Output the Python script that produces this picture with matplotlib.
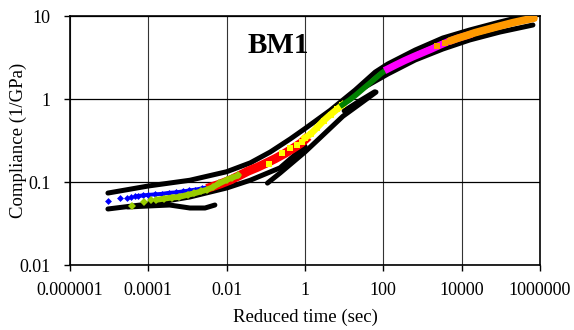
import matplotlib
matplotlib.use("Agg")
import matplotlib.pyplot as plt

plt.rcParams['font.family'] = ['Liberation Serif', 'DejaVu Serif']

# tick positions / labels
x_ticks = [1e-6, 1e-4, 1e-2, 1, 100, 1e4, 1e6]
x_labels = ["0.000001", "0.0001", "0.01", "1", "100", "10000", "1000000"]
y_ticks = [0.01, 0.1, 1, 10]
y_labels = ["0.01", "0.1", "1", "10"]

# shifted test data (reduced time in sec, compliance in 1/GPa)
blue_t = [9.3e-6, 1.9e-5, 2.8e-5, 3.7e-5, 4.6e-5, 5.6e-5, 7.4e-5, 1e-4, 1.5e-4,
          2.2e-4, 3.3e-4, 5e-4, 7.5e-4, 1.1e-3, 1.6e-3, 2.4e-3, 3.5e-3]
blue_j = [0.059, 0.064, 0.065, 0.066, 0.067, 0.068, 0.069, 0.070, 0.071,
          0.072, 0.074, 0.075, 0.077, 0.079, 0.081, 0.084, 0.087]

lime_t = [3.8e-5, 7.7e-5, 1.2e-4, 1.6e-4, 2.5e-4, 4e-4, 6e-4, 1e-3, 1.5e-3,
          2.2e-3, 3.2e-3, 4.5e-3, 6.5e-3, 0.01, 0.014, 0.02]
lime_j = [0.051, 0.057, 0.060, 0.061, 0.063, 0.065, 0.066, 0.070, 0.073,
          0.077, 0.081, 0.087, 0.096, 0.106, 0.113, 0.120]

red_t = [0.004, 0.007, 0.012, 0.02, 0.035, 0.06, 0.1, 0.17, 0.3, 0.5, 0.8, 1.0]
red_j = [0.087, 0.095, 0.105, 0.118, 0.135, 0.150, 0.168, 0.190, 0.220, 0.255, 0.295, 0.325]

yellow_t = [0.12, 0.26, 0.42, 0.63, 0.84, 1.0, 1.4, 2.0, 3.0, 4.5, 6.5, 9.0]
yellow_j = [0.165, 0.223, 0.257, 0.279, 0.303, 0.34, 0.38, 0.45, 0.55, 0.65, 0.75, 0.85]

dgreen_t = [9, 14, 20, 30, 45, 65, 90, 130]
dgreen_j = [0.85, 0.98, 1.12, 1.32, 1.55, 1.80, 2.05, 2.3]

magenta_t = [130, 200, 350, 600, 1000, 1700, 2800, 4500, 8000, 15000]
magenta_j = [2.3, 2.55, 2.9, 3.25, 3.6, 4.0, 4.45, 4.9, 5.4, 5.9]

orange_t = [2400, 3800, 5000, 8000, 1.3e4, 2.2e4, 4e4, 7e4, 1.2e5, 2e5, 3.5e5, 5.5e5, 7e5]
orange_j = [4.36, 4.7, 5.0, 5.4, 5.8, 6.3, 6.8, 7.3, 7.8, 8.3, 8.8, 9.2, 9.4]

# black curves
upper_t = [9.3e-6, 1e-4, 1.15e-3, 0.01, 0.04, 0.13, 0.42, 1.0, 4.4, 19, 62,
           130, 650, 3300, 1.6e4, 9.5e4, 6.6e5]
upper_j = [0.0736, 0.0895, 0.105, 0.133, 0.170, 0.230, 0.330, 0.440, 0.730, 1.28, 2.11,
           2.64, 3.89, 5.43, 6.78, 8.47, 10.6]
lower1_t = [9.3e-6, 1e-4, 1.15e-3, 0.01, 0.04, 0.23, 1.0]
lower1_j = [0.0473, 0.0543, 0.066, 0.0847, 0.105, 0.148, 0.27]
lower2_t = [30, 130, 650, 3300, 1.6e4, 9.5e4, 6.6e5]
lower2_j = [1.35, 2.0, 2.95, 4.0, 5.14, 6.41, 7.79]
droop_t = [3e-5, 1e-4, 3.5e-4, 1.15e-3, 2.8e-3, 5e-3]
droop_j = [0.050, 0.0514, 0.0528, 0.0486, 0.0486, 0.0528]
offset1_t = [0.11, 0.23, 1.0, 2.4, 9.3, 25, 65]
offset1_j = [0.097, 0.128, 0.23, 0.339, 0.62, 0.87, 1.21]
offset2_t = [10, 25, 60]
offset2_j = [0.72, 0.95, 1.22]

fig = plt.figure(figsize=(5.74, 3.30), dpi=100)
ax = fig.add_axes([70/574, 65/330, 470/574, 249/330])

# black curves first
for tt, jj in [(upper_t, upper_j), (lower1_t, lower1_j), (lower2_t, lower2_j),
               (droop_t, droop_j), (offset1_t, offset1_j), (offset2_t, offset2_j)]:
    ax.plot(tt, jj, color='black', lw=3.6, solid_capstyle='round', zorder=2)

# coloured data series
ax.plot(blue_t, blue_j, 'D', color='#0000FF', ms=3.5, mew=0, zorder=3)
ax.plot(blue_t[5:], blue_j[5:], color='#0000FF', lw=2.8, zorder=3)

ax.plot(red_t, red_j, color='#FF0000', lw=6.5, zorder=3)

ax.plot(lime_t, lime_j, 'D', color='#99CC00', ms=4.5, mew=0, zorder=4)
ax.plot(lime_t[3:], lime_j[3:], color='#99CC00', lw=4.2, solid_capstyle='round', zorder=4)

ax.plot(yellow_t, yellow_j, 's', color='#FFFF00', ms=5, mew=0, zorder=4)
ax.plot(yellow_t[5:], yellow_j[5:], color='#FFFF00', lw=4.8, zorder=4)

ax.plot(dgreen_t, dgreen_j, color='#008000', lw=4, zorder=4)
ax.plot(magenta_t, magenta_j, color='#FF00FF', lw=5.2, zorder=4)

ax.plot(orange_t, orange_j, 's', color='#FF9900', ms=5, mew=0, zorder=5)
ax.plot(orange_t[2:], orange_j[2:], color='#FF9900', lw=5.5, solid_capstyle='round', zorder=5)

ax.set_xscale('log')
ax.set_yscale('log')
ax.set_xlim(1e-6, 1e6)
ax.set_ylim(0.01, 10)
ax.set_xticks(x_ticks)
ax.set_xticklabels(x_labels)
ax.set_yticks(y_ticks)
ax.set_yticklabels(y_labels)
ax.minorticks_off()
ax.tick_params(direction='out', length=4, width=1, labelsize=13, colors='black')
ax.tick_params(axis='x', pad=8)
ax.tick_params(axis='y', pad=10)
ax.grid(True, axis='y', color='black', lw=0.9)
ax.grid(True, axis='x', color='#333333', lw=0.8)
ax.set_axisbelow(True)
for sp in ax.spines.values():
    sp.set_linewidth(1.2)
    sp.set_color('black')

ax.set_xlabel("Reduced time (sec)", fontsize=13.5, labelpad=7)
ax.set_ylabel("Compliance (1/GPa)", fontsize=13.5)
ax.yaxis.set_label_coords(-0.092, 0.5)
ax.text(1e-2 * 3.5, 4.4, "BM1", fontsize=21, fontweight='bold', ha='left', va='center')

fig.savefig("out.png", dpi=100)
